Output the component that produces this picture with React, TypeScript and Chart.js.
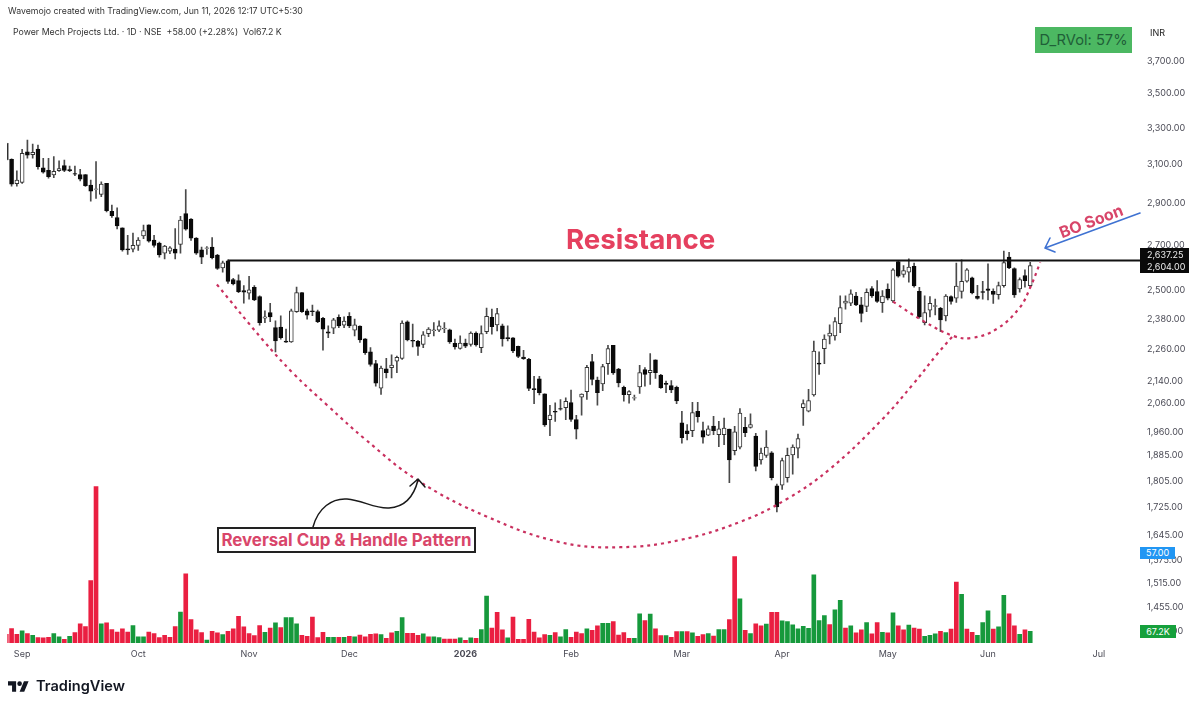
import { useEffect, useRef } from "react"
import type { CSSProperties } from "react"
import { Chart, registerables } from "chart.js"

Chart.register(...registerables)

const FONT = "Inter, 'Noto Sans', sans-serif"

// Daily candles, one value per session
const opens = [3209,3123,2995,3002,3163,3147,3178,3078,3064,3040,3063,3089,3068,3047,3042,3042,2988,2966,2940,2997,2857,2827,2777,2680,2678,2695,2739,2792,2720,2706,2660,2669,2678,2700,2846,2819,2729,2675,2681,2687,2651,2594,2625,2542,2538,2495,2484,2509,2470,2380,2403,2342,2344,2289,2285,2407,2486,2410,2410,2407,2379,2325,2340,2383,2352,2387,2332,2348,2297,2247,2202,2112,2183,2187,2211,2222,2365,2292,2288,2276,2318,2330,2332,2337,2333,2280,2260,2281,2276,2320,2263,2326,2383,2353,2349,2302,2301,2268,2227,2218,2110,2146,2091,2001,2030,2039,2042,2060,2001,2079,2099,2210,2141,2127,2202,2272,2182,2115,2088,2076,2116,2180,2168,2216,2159,2129,2121,2115,1990,1963,1964,2030,1964,1949,1979,1950,1950,1969,1898,1909,1975,1975,1946,1868,1882,1891,1787,1789,1812,1884,1906,2042,2030,2087,2204,2259,2308,2309,2358,2442,2442,2472,2435,2428,2504,2491,2444,2501,2451,2622,2565,2575,2600,2492,2362,2413,2428,2420,2389,2469,2463,2491,2535,2550,2471,2491,2502,2492,2478,2516,2642,2591,2502,2560,2516]
const highs = [3212,3125,3061,3176,3227,3205,3199,3128,3128,3137,3115,3119,3087,3087,3070,3042,3014,3110,3005,2997,2887,2874,2777,2742,2753,2731,2790,2792,2742,2710,2695,2690,2774,2833,2965,2822,2731,2687,2690,2731,2654,2624,2630,2548,2563,2516,2556,2516,2473,2410,2441,2369,2390,2336,2417,2510,2486,2417,2434,2413,2383,2349,2379,2394,2385,2403,2376,2349,2298,2263,2215,2193,2222,2235,2231,2369,2369,2356,2292,2326,2342,2362,2369,2362,2336,2296,2309,2296,2325,2325,2349,2421,2417,2420,2356,2349,2302,2269,2253,2222,2155,2155,2091,2051,2059,2071,2077,2105,2016,2091,2196,2237,2152,2199,2272,2272,2184,2119,2103,2087,2196,2187,2240,2216,2162,2137,2139,2119,2030,1984,2061,2061,1993,1980,2012,1995,2006,1969,1978,2039,2009,2021,1955,1906,1964,1895,1792,1874,1906,1917,1952,2070,2107,2289,2247,2313,2353,2382,2473,2473,2498,2488,2466,2502,2512,2538,2495,2524,2590,2627,2604,2634,2615,2509,2473,2469,2459,2424,2478,2473,2615,2630,2590,2553,2517,2535,2612,2502,2531,2669,2664,2594,2550,2585,2618]
const lows = [3115,2983,2983,2997,3128,3128,3070,3049,3023,3026,3059,3057,3057,3037,3009,2981,2907,2920,2929,2854,2827,2772,2669,2654,2665,2672,2726,2710,2687,2642,2634,2657,2634,2660,2766,2718,2654,2612,2654,2634,2587,2575,2526,2519,2486,2442,2459,2452,2352,2362,2366,2247,2296,2283,2283,2403,2403,2376,2390,2362,2253,2302,2318,2342,2342,2342,2309,2283,2237,2193,2119,2089,2149,2149,2168,2218,2289,2266,2233,2263,2306,2309,2326,2322,2279,2257,2257,2263,2269,2269,2244,2318,2316,2329,2269,2289,2244,2225,2218,2103,2056,2087,1978,1947,1995,2034,2001,1995,1936,2016,2071,2123,2051,2103,2162,2162,2116,2065,2058,2069,2093,2119,2125,2147,2111,2095,2095,2056,1922,1933,1944,1992,1922,1947,1950,1911,1917,1797,1884,1903,1944,1972,1833,1854,1876,1805,1709,1776,1798,1823,1874,1981,2028,2083,2162,2202,2278,2292,2322,2417,2431,2431,2365,2407,2466,2445,2403,2455,2445,2553,2553,2531,2509,2380,2353,2385,2393,2326,2369,2438,2445,2463,2531,2481,2459,2459,2455,2441,2459,2509,2590,2466,2488,2509,2509]
const closes = [3119,2993,3014,3154,3145,3160,3084,3054,3031,3059,3073,3064,3063,3044,3018,2985,2957,2969,2993,2860,2836,2787,2675,2675,2695,2720,2764,2715,2695,2652,2692,2684,2660,2814,2771,2729,2660,2642,2684,2639,2591,2616,2534,2523,2490,2488,2498,2455,2362,2385,2385,2289,2302,2284,2410,2486,2407,2392,2407,2366,2336,2320,2373,2349,2368,2349,2353,2293,2244,2199,2130,2185,2168,2197,2226,2360,2293,2288,2268,2313,2336,2333,2349,2340,2285,2266,2281,2269,2320,2274,2318,2387,2346,2399,2297,2298,2250,2229,2221,2111,2106,2095,1983,2017,2027,2037,2065,2002,1969,2090,2188,2143,2095,2191,2259,2167,2131,2088,2099,2078,2169,2162,2177,2168,2113,2125,2105,2066,1940,1954,2025,2011,1942,1970,1964,1970,1972,1868,1960,2024,1957,1984,1847,1890,1909,1812,1724,1866,1883,1909,1937,2057,2067,2250,2200,2296,2320,2366,2423,2451,2481,2435,2399,2488,2472,2449,2472,2463,2585,2557,2582,2597,2515,2386,2403,2441,2432,2373,2472,2449,2514,2535,2585,2485,2462,2487,2496,2479,2516,2617,2593,2477,2542,2538,2604]

// Volume in thousands, with the colour side of each bar
const volumes = [50,83,50,69,54,44,31,29,33,54,36,21,38,60,109,94,357,895,109,115,77,63,81,63,100,36,36,63,54,31,44,33,94,177,396,134,75,60,17,67,58,48,67,81,152,92,54,42,100,61,86,115,88,146,146,109,44,38,148,31,61,33,33,33,33,38,36,46,36,50,52,48,27,58,67,146,56,56,44,52,35,36,31,23,23,23,29,15,29,27,77,269,86,175,75,29,148,21,21,136,63,29,48,44,60,36,77,33,63,54,81,73,98,113,113,123,46,60,27,27,167,129,165,81,42,42,33,65,65,65,58,38,48,54,40,77,77,134,495,253,73,54,109,98,108,175,175,127,123,104,81,96,84,390,129,157,106,190,244,86,98,58,75,117,52,117,61,58,173,98,75,102,86,79,38,44,52,67,60,79,349,278,79,61,44,117,184,79,92,273,167,98,50,75,67.2]
const volumeSides = "rrrgrgrrrg" + "grgrrrrrgr" + "rrrrgggrrr" + "rrrgrrrrgr" + "rgrrrrrrrg" + "rgrgggrrrr" + "rggrgrgrrr" + "rgrrggrrrg" + "rggrrrgrgr" + "ggrrrgrrrr" + "rrrgrggrrr" + "grrggrrrrg" + "grgrrgrrgr" + "grrgrggrrg" + "rgrrgrrggg" + "ggggggrggr" + "grrgrrgrgr" + "rgrrgggrgr" + "rgrrgggrgg" + "rrgrg"

// Hand drawn overlays, as [session, price]
const resistance = [[42, 2627], [214.8, 2627]]
const cupCurve = [[39.9,2521],[48.6,2293],[54.3,2167],[60.8,2051],[68,1935],[78,1803],[91.1,1695],[104.9,1623],[116.3,1609],[127.7,1629],[139,1680],[148,1748],[156.1,1840],[165.6,1995],[171.8,2126],[176.4,2239],[179.2,2305]]
const handleCurve = [[168,2448],[173.7,2369],[179.4,2309],[183,2301],[187.7,2337],[192,2423],[194,2508],[195.9,2618]]

const priceTicks = [3700,3500,3300,3100,2900,2700,2500,2380,2260,2140,2060,1960,1885,1805,1725,1645,1575,1515,1455,1395]
const monthLabels = ["Sep","Oct","Nov","Dec","2026","Feb","Mar","Apr","May","Jun","Jul"]
const monthSessions = [3,25,46,65,87,107,128,147,167,186,207]

const toXY = (pts: number[][]) => pts.map(([x, y]) => ({ x, y }))

// Arrows and the logo are annotations on the picture, not data
const overlayPlugin = {
    id: "overlay",
    afterDraw(chart: Chart) {
        const ctx = chart.ctx
        ctx.save()
        ctx.lineCap = "round"
        ctx.lineJoin = "round"

        // curved arrow from the pattern box to the cup
        ctx.strokeStyle = "#1a1a1a"
        ctx.lineWidth = 1.5
        ctx.beginPath()
        ctx.moveTo(313, 527)
        ctx.bezierCurveTo(318, 508, 332, 498, 347, 499)
        ctx.bezierCurveTo(362, 500, 375, 509, 389, 508)
        ctx.bezierCurveTo(405, 507, 414, 496, 418, 480)
        ctx.moveTo(410, 486)
        ctx.lineTo(418, 479)
        ctx.lineTo(425, 487)
        ctx.stroke()

        // blue arrow pointing at the breakout
        ctx.strokeStyle = "#3f72d2"
        ctx.lineWidth = 1.6
        ctx.beginPath()
        ctx.moveTo(1140, 213)
        ctx.lineTo(1045, 248)
        ctx.moveTo(1050, 238)
        ctx.lineTo(1045, 248)
        ctx.lineTo(1055, 252)
        ctx.stroke()

        // logo mark
        ctx.translate(8, 679)
        ctx.scale(0.58, 0.58)
        ctx.fillStyle = "#131722"
        ctx.fill(new Path2D("M14 22H7V11H0V4h14v18zM28 22h-8l7.5-18h8L28 22z"))
        ctx.beginPath()
        ctx.arc(20, 8, 4, 0, Math.PI * 2)
        ctx.fill()
        ctx.restore()
    },
}

function CandleChart() {
    const canvasRef = useRef<HTMLCanvasElement | null>(null)

    useEffect(() => {
        if (!canvasRef.current) return
        const sessions = opens.map((_, i) => i)
        const lineBase = { type: "line" as const, pointRadius: 0, order: 0, yAxisID: "y" }

        const chart = new Chart(canvasRef.current, {
            type: "bar",
            data: {
                datasets: [
                    {
                        ...lineBase,
                        data: toXY(resistance),
                        borderColor: "#111",
                        borderWidth: 2,
                    },
                    {
                        ...lineBase,
                        data: toXY(cupCurve),
                        borderColor: "#c9305f",
                        borderWidth: 2.2,
                        borderDash: [3, 4],
                        tension: 0.4,
                    },
                    {
                        ...lineBase,
                        data: toXY(handleCurve),
                        borderColor: "#c9305f",
                        borderWidth: 2.2,
                        borderDash: [3, 4],
                        tension: 0.4,
                    },
                    {
                        // bodies: hollow when the session closed up
                        data: sessions.map((i) => ({ x: i, y: [opens[i], closes[i]] })),
                        backgroundColor: sessions.map((i) => (closes[i] >= opens[i] ? "#ffffff" : "#0a0a0a")),
                        borderColor: sessions.map((i) => (closes[i] >= opens[i] ? "#333333" : "#0a0a0a")),
                        borderWidth: 1,
                        borderSkipped: false,
                        barThickness: 4,
                        grouped: false,
                        order: 1,
                        yAxisID: "y",
                    },
                    {
                        // wicks
                        data: sessions.map((i) => ({ x: i, y: [lows[i], highs[i]] })),
                        backgroundColor: "#4a4a4a",
                        barThickness: 1,
                        grouped: false,
                        order: 2,
                        yAxisID: "y",
                    },
                    {
                        data: sessions.map((i) => ({ x: i, y: volumes[i] })),
                        backgroundColor: sessions.map((i) => (volumeSides[i] === "g" ? "#16993c" : "#ea1f41")),
                        barThickness: 4,
                        grouped: false,
                        order: 3,
                        yAxisID: "vol",
                    },
                ],
            } as any,
            options: {
                responsive: false,
                animation: false,
                events: [],
                layout: { padding: { left: 7.3, top: 20, right: 0, bottom: 0 } },
                plugins: { legend: { display: false }, tooltip: { enabled: false } },
                scales: {
                    x: {
                        type: "linear",
                        offset: false,
                        min: 0.19,
                        max: 214.8,
                        grid: { display: false, drawTicks: false, offset: false },
                        border: { display: false },
                        afterBuildTicks: (axis: any) => {
                            axis.ticks = monthSessions.map((value) => ({ value }))
                        },
                        afterFit: (axis: any) => {
                            axis.height = 65
                        },
                        ticks: {
                            autoSkip: false,
                            maxRotation: 0,
                            padding: 6,
                            color: "#4a4a55",
                            font: (c: any) => ({
                                family: FONT,
                                size: 9,
                                weight: c.tick && c.tick.value === 87 ? 700 : 400,
                            }),
                            callback: (v: any) => monthLabels[monthSessions.indexOf(v)],
                        },
                    },
                    y: {
                        type: "logarithmic",
                        position: "right",
                        min: 1366,
                        max: 3962,
                        grid: { display: false, drawTicks: false },
                        border: { display: false },
                        afterBuildTicks: (axis: any) => {
                            axis.ticks = priceTicks.map((value) => ({ value }))
                        },
                        afterFit: (axis: any) => {
                            axis.width = 60
                        },
                        ticks: {
                            autoSkip: false,
                            padding: 7,
                            labelOffset: 1,
                            color: "#4a4a55",
                            font: { family: FONT, size: 9 },
                            callback: (v: any) =>
                                Number(v).toLocaleString("en-US", { minimumFractionDigits: 2, maximumFractionDigits: 2 }),
                        },
                    },
                    vol: {
                        type: "linear",
                        display: false,
                        min: 0,
                        max: 3565,
                    },
                },
            } as any,
            plugins: [overlayPlugin],
        })

        return () => chart.destroy()
    }, [])

    return <canvas ref={canvasRef} width={1200} height={708} style={{ display: "block" }} />
}

function Note({ style, children }: { style: CSSProperties; children: string }) {
    return (
        <div style={{ position: "absolute", fontFamily: FONT, whiteSpace: "pre", ...style }}>
            {children}
        </div>
    )
}

export default function App() {
    return (
        <div style={{ position: "absolute", left: 0, top: 0, width: 1200, height: 708, background: "#fff", overflow: "hidden" }}>
            <CandleChart />
            <Note style={{ left: 8, top: 5, fontSize: 8.75, lineHeight: "13px", color: "#333" }}>
                Wavemojo created with TradingView.com, Jun 11, 2026 12:17 UTC+5:30
            </Note>
            <Note style={{ left: 13, top: 25, fontSize: 8.8, lineHeight: "13px", color: "#333" }}>
                {"Power Mech Projects Ltd. · 1D · NSE  +58.00 (+2.28%)  Vol67.2 K"}
            </Note>
            <Note style={{ left: 1035, top: 27, width: 97, height: 26, lineHeight: "26px", textAlign: "center", fontSize: 14.7, background: "#4cb862", color: "#1f5f38" }}>
                D_RVol: 57%
            </Note>
            <Note style={{ left: 1150, top: 26, fontSize: 9, lineHeight: "13px", color: "#222" }}>INR</Note>
            <Note style={{ left: 566, top: 222, fontSize: 27.7, lineHeight: "34px", fontWeight: 700, color: "#e5405f" }}>
                Resistance
            </Note>
            <Note style={{ left: 1091, top: 221, transform: "translate(-50%, -50%) rotate(-21deg)", fontSize: 16, fontWeight: 700, color: "#d8466a" }}>
                BO Soon
            </Note>
            <Note style={{ left: 217, top: 527, width: 255, height: 22, lineHeight: "22px", textAlign: "center", border: "2px solid #222", background: "#fff", fontSize: 16.9, fontWeight: 700, color: "#d9466a" }}>
                {"Reversal Cup & Handle Pattern"}
            </Note>
            <Note style={{ left: 1140, top: 248, width: 49, height: 25, background: "#0a0a0a" }}>{""}</Note>
            <Note style={{ left: 1147, top: 249, fontSize: 9, lineHeight: "12px", color: "#eee" }}>2,637.25</Note>
            <Note style={{ left: 1147, top: 261, fontSize: 9, lineHeight: "12px", color: "#eee" }}>2,604.00</Note>
            <Note style={{ left: 1140, top: 547, width: 35, height: 12, lineHeight: "12px", textAlign: "center", fontSize: 9, background: "#2196f3", color: "#fff" }}>
                57.00
            </Note>
            <Note style={{ left: 1140, top: 625, width: 36, height: 13, lineHeight: "13px", textAlign: "center", fontSize: 9, background: "#16a03c", color: "#fff" }}>
                67.2K
            </Note>
            <Note style={{ left: 36, top: 677, fontSize: 14.6, lineHeight: "19px", fontWeight: 600, color: "#131722" }}>
                TradingView
            </Note>
        </div>
    )
}
